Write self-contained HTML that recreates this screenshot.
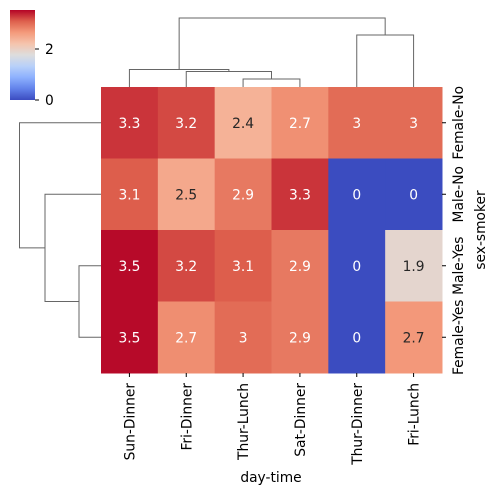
<!DOCTYPE html>
<html><head><meta charset="utf-8"><style>
body{margin:0;background:#fff}
svg{font-family:"DejaVu Sans","Liberation Sans",sans-serif}
</style></head><body>
<svg id="c" width="495" height="495" viewBox="0 0 495 495" xmlns="http://www.w3.org/2000/svg"></svg>
<script>
const cols=["Sun-Dinner","Fri-Dinner","Thur-Lunch","Sat-Dinner","Thur-Dinner","Fri-Lunch"];
const rows=["Female-No","Male-No","Male-Yes","Female-Yes"];
const rowFemaleNo=[3.3,3.2,2.4,2.72,3.0,3.0];
const rowMaleNo=[3.1,2.5,2.9,3.3,0,0];
const rowMaleYes=[3.5,3.2,3.1,2.9,0,1.9];
const rowFemaleYes=[3.5,2.74,3.0,2.9,0,2.66];
const values=[rowFemaleNo,rowMaleNo,rowMaleYes,rowFemaleYes];
const cbTicks=[0,2];
const vmin=0,vmax=3.53;
const FS='13.8';
const NS="http://www.w3.org/2000/svg";
const svg=document.getElementById('c');
function el(t,a,p){const e=document.createElementNS(NS,t);for(const k in a)e.setAttribute(k,a[k]);(p||svg).appendChild(e);return e;}
const X0=101,X1=442,Y0=87,Y1=373;
const cw=(X1-X0)/cols.length,rh=(Y1-Y0)/rows.length;
const cm=[[59,76,192],[98,130,234],[141,176,254],[184,208,249],[221,221,221],[245,196,173],[244,154,123],[222,96,77],[180,4,38]];
function cmap(v){let t=(v-vmin)/(vmax-vmin);t=Math.max(0,Math.min(1,t));const f=t*8,i=Math.min(7,Math.floor(f)),r=f-i;return cm[i].map((c,k)=>Math.round(c+(cm[i+1][k]-c)*r));}
function lum(c){const l=c.map(x=>{x/=255;return x<=0.03928?x/12.92:Math.pow((x+0.055)/1.055,2.4)});return 0.2126*l[0]+0.7152*l[1]+0.0722*l[2];}
function fmt(v){return String(parseFloat(v.toPrecision(2)));}
const hm=el('g',{});
values.forEach((row,i)=>row.forEach((v,j)=>{
 const c=cmap(v);
 const r=el('rect',{x:X0+j*cw,y:Y0+i*rh,width:cw+0.5,height:rh+0.5,fill:`rgb(${c})`},hm);
 
 
 const t=el('text',{x:X0+(j+.5)*cw,y:Y0+(i+.5)*rh+5,'text-anchor':'middle','font-size':FS,fill:lum(c)>0.408?'#262626':'#fff'},hm);
 t.textContent=fmt(v);
 
 
}));
cols.forEach((c,j)=>{const x=X0+(j+.5)*cw;
 el('line',{x1:x,y1:Y1,x2:x,y2:Y1+4,stroke:'#000','stroke-width':1});
 const t=el('text',{transform:`translate(${x+5},${Y1+10}) rotate(-90)`,'text-anchor':'end','font-size':FS,fill:'#000'});
 t.textContent=c;});
rows.forEach((r,i)=>{const y=Y0+(i+.5)*rh;
 el('line',{x1:X1,y1:y,x2:X1+4,y2:y,stroke:'#000','stroke-width':1});
 const t=el('text',{transform:`translate(463,${y}) rotate(-90)`,'text-anchor':'middle','font-size':FS,fill:'#000'});
 t.textContent=r;});
let t=el('text',{x:271,y:482,'text-anchor':'middle','font-size':FS,fill:'#000'});t.textContent='day-time';

t=el('text',{transform:`translate(485,230) rotate(-90)`,'text-anchor':'middle','font-size':FS,fill:'#000'});t.textContent='sex-smoker';

const dg=el('g',{fill:'none',stroke:'#666','stroke-width':1});
const cx=j=>X0+(j+.5)*cw, ry=i=>Y0+(i+.5)*rh;
[
`M${cx(2)},${Y0}V79H${cx(3)}V${Y0}`,
`M${cx(1)},${Y0}V71.5H${(cx(2)+cx(3))/2}V79`,
`M${cx(0)},${Y0}V69.5H${(cx(1)+(cx(2)+cx(3))/2)/2}V71.5`,
`M${cx(4)},${Y0}V35H${cx(5)}V${Y0}`,
`M${(cx(0)+(cx(1)+(cx(2)+cx(3))/2)/2)/2},69.5V18H${(cx(4)+cx(5))/2}V35`,
`M${X0},${ry(2)}H79V${ry(3)}H${X0}`,
`M${X0},${ry(1)}H45V${(ry(2)+ry(3))/2}H79`,
`M${X0},${ry(0)}H19.5V${(ry(1)+(ry(2)+ry(3))/2)/2}H45`
].forEach(d=>el('path',{d},dg));
const defs=el('defs',{});const lg=el('linearGradient',{id:'g',x1:0,y1:1,x2:0,y2:0},defs);
for(let k=0;k<=8;k++)el('stop',{offset:k/8,'stop-color':`rgb(${cm[k]})`},lg);
const cb=el('g',{});
const cbY=v=>100-(v-vmin)/(vmax-vmin)*90;
el('rect',{x:10,y:10,width:25,height:90,fill:'url(#g)'},cb);
cbTicks.forEach(v=>{el('line',{x1:35,y1:cbY(v),x2:39,y2:cbY(v),stroke:'#000'},cb);
 const tt=el('text',{x:45,y:cbY(v)+5,'font-size':FS,fill:'#000'},cb);tt.textContent=v;
 });
</script>
</body></html>
